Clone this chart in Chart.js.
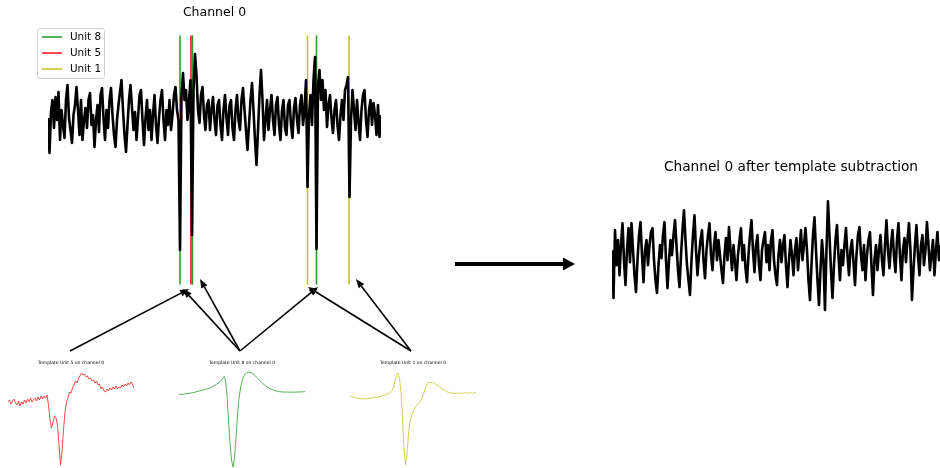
<!DOCTYPE html>
<html>
<head>
<meta charset="utf-8">
<script src="https://cdn.jsdelivr.net/npm/chart.js@4"></script>
<style>
html, body { margin: 0; padding: 0; overflow: hidden; background: #fff; width: 940px; height: 468px; }
canvas { position: absolute; }
</style>
</head>
<body>
<canvas id="main" width="470" height="300" style="left:0px;top:0px"></canvas>
<canvas id="clean" width="420" height="190" style="left:560px;top:150px"></canvas>
<canvas id="tpl5" width="126" height="116" style="left:8px;top:352px"></canvas>
<canvas id="tpl8" width="126" height="116" style="left:179px;top:352px"></canvas>
<canvas id="tpl1" width="126" height="116" style="left:350px;top:352px"></canvas>
<canvas id="arrows" width="940" height="468" style="left:0px;top:0px"></canvas>
<script>
Chart.defaults.font.family = "'DejaVu Sans', sans-serif";
Chart.defaults.color = '#000';

// raw channel 0 (one value per sample)
var mainTrace = [10,-25,16,28,0,31,8,36,-12,18, 3,-10,28,43,10,-2,-15,13,23,41, 18,-7,28,-12,8,20,0,28,35,3,
  13,-19,8,23,-4,33,40,10,-12,18, 0,28,40,13,-7,-19,8,23,36,48, 18,-7,-24,3,28,43,20,-2,16,-12,
  10,33,38,8,-17,10,28,-2,18,-12, 13,33,3,-15,10,28,38,8,-12,18, 3,28,-2,13,33,41,18,8,-122,33,
  55,28,38,8,28,48,-107,38,74,53, 18,5,33,41,13,-2,23,28,-2,18, 31,8,-7,23,28,3,-12,18,33,10,
  -7,23,28,0,-12,18,33,8,-2,28, 40,18,-2,-22,3,28,45,18,-12,-37, -2,33,58,28,-12,8,28,-2,18,33,
  8,-7,23,31,3,-12,18,28,0,-7, 23,28,3,-10,20,30,8,-5,23,33, 3,18,48,-59,13,33,3,48,71,-121,
  43,58,28,48,18,38,1,23,33,10, -5,18,28,3,-12,13,28,8,38,43, 51,-69,8,38,18,-2,28,6,-12,18,
  33,38,8,-9,18,28,3,25,13,-7, 23,-9,13];

// channel 0 after template subtraction
var cleanTrace = [5,-43,25,-10,15,-20,10,32,-5,-30, 5,27,-7,32,5,-20,-37,-5,20,33, 0,-27,5,15,-10,10,23,27,-5,-25,
  -38,-10,10,-3,20,33,-5,-33,-5,15, 0,20,35,10,-15,-32,0,25,45,15, -10,-25,-40,-5,20,40,5,-20,0,15,
  25,-5,-23,5,20,32,0,-15,10,23, -5,15,0,-15,-28,0,17,-5,28,5, -15,10,-7,-25,0,15,27,-5,10,-13,
  -27,0,20,35,5,-17,10,20,-10,-25, 5,15,23,-7,10,-15,15,25,-5,-20, -30,0,15,-7,10,20,-10,-32,-5,15,
  0,-20,5,17,-15,5,25,-5,10,27, 5,-25,-45,-10,20,38,5,-25,-50,-15, 15,-5,-55,5,54,20,-15,-43,-10,15,
  30,0,-25,5,-10,10,27,0,-20,5, 15,-7,-30,0,20,28,0,-15,10,-25, 0,15,23,-10,-40,-5,10,-15,5,20,
  -5,-20,10,35,5,-13,10,25,0,-17, 15,32,0,-25,5,17,-7,15,32,5, -45,-15,10,30,0,-20,10,20,-10,5,
  33,10,-15,0,15,-20,5,23,-5,10];
var cleanSpan = 238.7;

// templates
var tplUnit5 = [-2,0,-4,-1,1,-3,-5,-1,-6,-2, -4,0,-3,1,-2,2,-2,0,2,-1, 3,0,4,1,4,2,5,-5,-20,-28,
  -22,-16,-18,-25,-45,-65,-52,-30,-12,-2, 2,8,7,12,15,19,17,22,24,27, 25,26,23,24,21,22,19,20,17,19,
  15,16,11,13,9,8,11,9,12,10, 13,11,14,11,13,12,15,13,16,14, 17,15,18,16,12];
var tplUnit8 = [5.5,5.6,5.7,5.8,6,6.2,6.4,6.7,7,7.3, 7.6,8,8.4,8.8,9.2,9.6,10,10.4,10.8,11.2,
  11.7,12.3,13,13.8,14.7,15.7,16.8,18,19.5,21.5, 23.5,20,5,-20,-43,-60,-67,-58,-38,-15,
  2,12,19,23,25.5,27,27.7,27.8,27.4,26.6, 25.4,24,22.4,20.8,19.2,17.7,16.3,15,13.8,12.8,
  11.9,11.1,10.4,9.8,9.3,8.9,8.6,8.3,8.2,8, 8,7.9,8,7.8,7.9,7.7,8,7.8,7.9,8.1, 7.9,8.2,8,8.5,8.3];
var tplUnit1 = [3,4,3,2,2.5,1.5,2,1,1.5,1, 1.5,1,1.5,2,1.5,2.5,2,3,2.5,3.5, 3.5,4,4.5,5,5.5,6,7,8,9.5,12.5,
  19,25,27,22,8,-18,-48,-65,-55,-33, -22,-16,-12,-9,-6.5,-4.5,-3,-1,2,6, 11,15,17,18,17.5,17.5,16.5,16,15,14,
  12.5,11.5,10.5,9.5,9,8,7.5,7,7,6.5, 7,6.5,7,6.5,7.5,6.5,7,7.5,6.5,7, 7.5,7,6.5,7.5,7];

// spike times (sample index) per unit
var spikesUnit8 = [88, 96.3, 179];
var spikesUnit5 = [95.3];
var spikesUnit1 = [173, 200.7];
var markerRange = [-156, 92];

// arrows in figure pixels
var arrowTails = [[70, 351], [240, 351], [240, 351], [240, 351], [411, 351], [411, 351]];
var arrowHeads = [[189, 289], [183, 289], [200, 279], [318, 287], [308, 287], [356, 279]];
var bigArrow = [[455, 264], [575, 264]];

var GREEN = '#2a9d2a', RED = '#f02020', YELLOW = '#c4c42a';

function xy(arr) {
    return arr.map(function (v, i) { return { x: i, y: v }; });
}
function marks(times) {
    var out = [];
    times.forEach(function (t) {
        out.push({ x: t, y: markerRange[1] }, { x: t, y: markerRange[0] }, { x: t, y: null });
    });
    return out;
}

var boxLegend = {
    id: 'boxLegend',
    afterDraw: function (chart, args, opts) {
        var ctx = chart.ctx;
        var items = chart.data.datasets.filter(function (d) { return d.label; });
        ctx.save();
        ctx.fillStyle = 'rgba(255,255,255,0.8)';
        ctx.strokeStyle = '#d0d0d0';
        ctx.lineWidth = 1;
        ctx.beginPath();
        ctx.roundRect(opts.x + 0.5, opts.y + 0.5, opts.w, opts.h, 3);
        ctx.fill();
        ctx.stroke();
        ctx.font = "10.4px 'DejaVu Sans'";
        ctx.textBaseline = 'middle';
        items.forEach(function (d, i) {
            var y = opts.y + 9 + i * 16;
            ctx.strokeStyle = d.borderColor;
            ctx.lineWidth = 1.6;
            ctx.beginPath();
            ctx.moveTo(opts.x + 5, y);
            ctx.lineTo(opts.x + 25, y);
            ctx.stroke();
            ctx.fillStyle = '#000';
            ctx.fillText(d.label, opts.x + 33, y);
        });
        ctx.restore();
    }
};

function baseOptions(xmax, ymin, ymax, title, fsize, tpad, bpad, padding) {
    return {
        responsive: false,
        animation: false,
        elements: { point: { radius: 0 }, line: { tension: 0, borderJoinStyle: 'round' } },
        layout: { padding: padding },
        scales: {
            x: { type: 'linear', display: false, min: 0, max: xmax },
            y: { display: false, min: ymin, max: ymax }
        },
        plugins: {
            legend: { display: false },
            tooltip: { enabled: false },
            title: { display: true, text: title, color: '#000', font: { size: fsize, weight: 'normal' }, padding: { top: tpad, bottom: bpad } }
        }
    };
}

var mainOpts = baseOptions(mainTrace.length - 1, -162, 98, 'Channel 0', 12.5, 5.5, 9.5, { left: 48, right: 89, top: 0, bottom: 10 });
mainOpts.plugins.boxLegend = { x: 37, y: 28, w: 67, h: 50 };
new Chart(document.getElementById('main'), {
    type: 'line',
    data: {
        datasets: [
            { data: xy(mainTrace), borderColor: '#000', borderWidth: 2.6 },
            { label: 'Unit 8', data: marks(spikesUnit8), borderColor: GREEN, borderWidth: 1.6 },
            { label: 'Unit 5', data: marks(spikesUnit5), borderColor: RED, borderWidth: 1.6 },
            { label: 'Unit 1', data: marks(spikesUnit1), borderColor: YELLOW, borderWidth: 1.6 }
        ]
    },
    options: mainOpts,
    plugins: [boxLegend]
});

new Chart(document.getElementById('clean'), {
    type: 'line',
    data: { datasets: [{ data: xy(cleanTrace), borderColor: '#000', borderWidth: 2.6 }] },
    options: baseOptions(cleanSpan, -70, 70, 'Channel 0 after template subtraction', 13.7, 8.8, 10, { left: 52, right: 10, top: 0, bottom: 15 })
});

[['tpl5', tplUnit5, RED, 'Template Unit 5 on channel 0'],
 ['tpl8', tplUnit8, GREEN, 'Template Unit 8 on channel 0'],
 ['tpl1', tplUnit1, YELLOW, 'Template Unit 1 on channel 0']].forEach(function (t) {
    new Chart(document.getElementById(t[0]), {
        type: 'line',
        data: { datasets: [{ data: xy(t[1]), borderColor: t[2], borderWidth: 0.8 }] },
        options: baseOptions(t[1].length - 1, -68, 30, t[3], 4.5, 8.3, 4.3, 0)
    });
});

// arrows on a transparent overlay, in figure pixel coordinates
function drawArrow(ctx, a, b, lw, len, wid) {
    var dx = b[0] - a[0], dy = b[1] - a[1];
    var d = Math.sqrt(dx * dx + dy * dy), ux = dx / d, uy = dy / d;
    var bx = b[0] - ux * len, by = b[1] - uy * len;
    ctx.lineWidth = lw;
    ctx.beginPath();
    ctx.moveTo(a[0], a[1]);
    ctx.lineTo(bx, by);
    ctx.stroke();
    ctx.beginPath();
    ctx.moveTo(b[0], b[1]);
    ctx.lineTo(bx - uy * wid / 2, by + ux * wid / 2);
    ctx.lineTo(bx + uy * wid / 2, by - ux * wid / 2);
    ctx.closePath();
    ctx.fill();
}

var arrowLayer = {
    id: 'arrowLayer',
    afterDraw: function (chart) {
        var ctx = chart.ctx, sx = chart.scales.x, sy = chart.scales.y;
        function px(p) { return [sx.getPixelForValue(p[0]), sy.getPixelForValue(p[1])]; }
        ctx.save();
        ctx.strokeStyle = '#000';
        ctx.fillStyle = '#000';
        arrowTails.forEach(function (t, i) {
            drawArrow(ctx, px(t), px(arrowHeads[i]), 1.6, 9, 7);
        });
        drawArrow(ctx, px(bigArrow[0]), px(bigArrow[1]), 4, 12, 13);
        ctx.restore();
    }
};

new Chart(document.getElementById('arrows'), {
    type: 'scatter',
    data: { datasets: [] },
    options: {
        responsive: false,
        animation: false,
        layout: { padding: 0 },
        scales: {
            x: { type: 'linear', display: false, min: 0, max: 940 },
            y: { type: 'linear', display: false, min: 0, max: 468, reverse: true }
        },
        plugins: { legend: { display: false }, tooltip: { enabled: false } }
    },
    plugins: [arrowLayer]
});
</script>
</body>
</html>
